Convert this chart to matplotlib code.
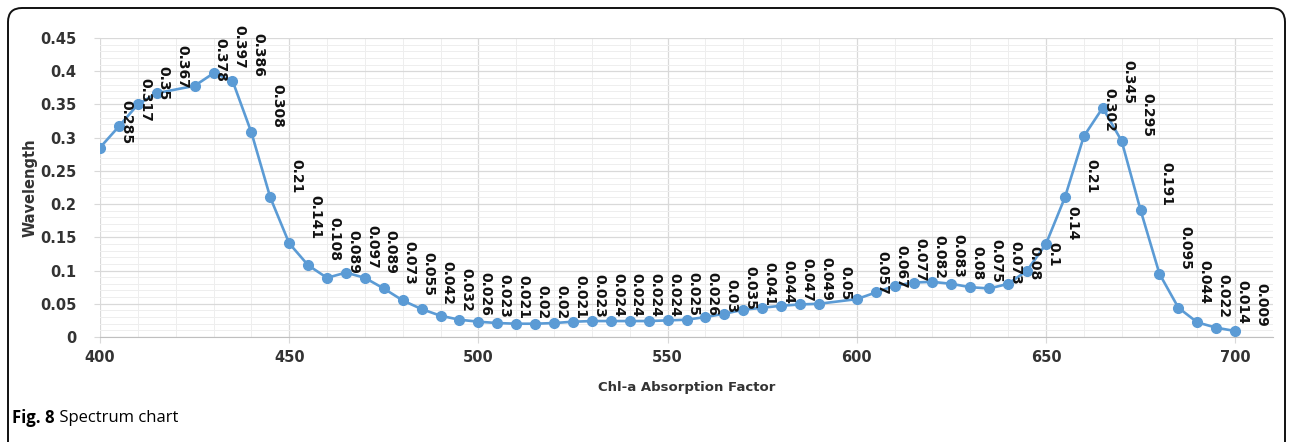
import matplotlib.pyplot as plt
from matplotlib.patches import FancyBboxPatch
from matplotlib.ticker import MultipleLocator, FuncFormatter

# chl-a absorption spectrum (420 and 595 have no point in the source)
wl = [400, 405, 410, 415, 425, 430, 435, 440, 445, 450,
      455, 460, 465, 470, 475, 480, 485, 490, 495, 500,
      505, 510, 515, 520, 525, 530, 535, 540, 545, 550,
      555, 560, 565, 570, 575, 580, 585, 590, 600, 605,
      610, 615, 620, 625, 630, 635, 640, 645, 650, 655,
      660, 665, 670, 675, 680, 685, 690, 695, 700]
absorb = [0.285, 0.317, 0.35, 0.367, 0.378, 0.397, 0.386, 0.308, 0.21, 0.141,
          0.108, 0.089, 0.097, 0.089, 0.073, 0.055, 0.042, 0.032, 0.026, 0.023,
          0.021, 0.02, 0.02, 0.021, 0.023, 0.024, 0.024, 0.024, 0.024, 0.025,
          0.026, 0.03, 0.035, 0.041, 0.044, 0.047, 0.049, 0.05, 0.057, 0.067,
          0.077, 0.082, 0.083, 0.08, 0.075, 0.073, 0.08, 0.1, 0.14, 0.21,
          0.302, 0.345, 0.295, 0.191, 0.095, 0.044, 0.022, 0.014, 0.009]

xlabel = 'Chl-a Absorption Factor'
ylabel = 'Wavelength'

blue = '#5B9BD5'

fig = plt.figure(figsize=(12.93, 4.42), dpi=100)
ax = fig.add_axes([100/1293, 1-337/442, 1173/1293, 299/442])

ax.plot(wl, absorb, color=blue, lw=1.9, marker='o', ms=7, zorder=3)

for x, v in zip(wl, absorb):
    ax.annotate(f'{v:g}', (x, v), xytext=(26, 4), textcoords='offset pixels',
                rotation=-90, ha='center', va='bottom', fontsize=10,
                fontweight='bold', color='#111111', zorder=4)

ax.set_xlim(400, 710)
ax.set_ylim(0, 0.45)
ax.xaxis.set_major_locator(MultipleLocator(50))
ax.xaxis.set_minor_locator(MultipleLocator(10))
ax.yaxis.set_major_locator(MultipleLocator(0.05))
ax.yaxis.set_minor_locator(MultipleLocator(0.01))
ax.yaxis.set_major_formatter(FuncFormatter(lambda v, p: f'{v:.2f}'.rstrip('0').rstrip('.') if v else '0'))

ax.grid(which='major', color='#D9D9D9', lw=0.9)
ax.grid(which='minor', color='#EEEEEE', lw=0.7)
ax.set_axisbelow(True)
for s in ['top', 'right', 'left']:
    ax.spines[s].set_visible(False)
ax.spines['bottom'].set_color('#BFBFBF')
ax.tick_params(which='major', length=4, color='#D9D9D9', labelsize=10.5,
               labelcolor='#333333')
ax.tick_params(axis='y', pad=13)
ax.tick_params(axis='x', pad=5)
ax.tick_params(which='minor', length=0)
for t in ax.get_xticklabels() + ax.get_yticklabels():
    t.set_fontweight('bold')

ax.set_xlabel(xlabel, fontsize=9.5, fontweight='bold', color='#333333', labelpad=12)
ax.set_ylabel(ylabel, fontsize=10.5, fontweight='bold', color='#333333', labelpad=2)

# caption
cap = fig.text(12/1293, 1-418/442, 'Fig. 8', fontsize=12, fontweight='bold',
               family='Open Sans', va='center')
ax.annotate(' Spectrum chart', xy=(1, 0.5), xycoords=cap, va='center',
            fontsize=12, family='Open Sans', annotation_clip=False)

# rounded frame
frame = FancyBboxPatch((0.08, -0.3), 12.77, 4.64,
                       boxstyle='round,pad=0,rounding_size=0.14',
                       transform=fig.dpi_scale_trans, fill=False,
                       ec='#111111', lw=1.4)
fig.patches.append(frame)

fig.savefig('out.png', dpi=100)
